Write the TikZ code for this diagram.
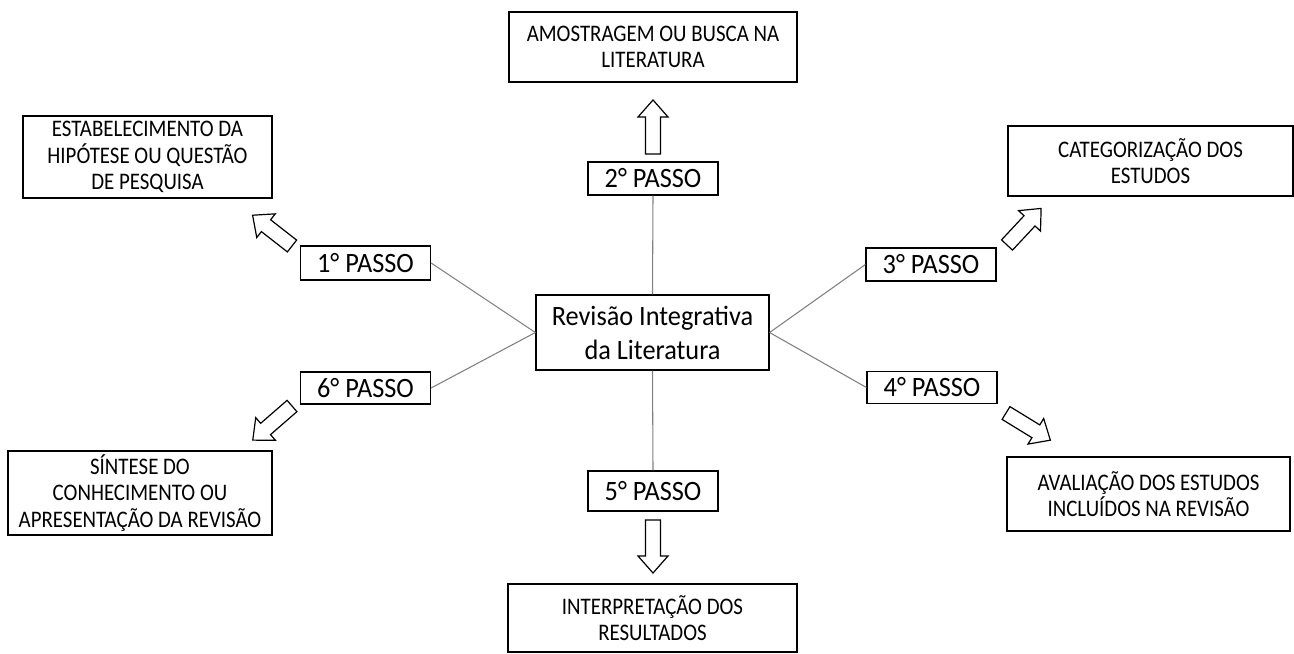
\documentclass[tikz,border=0pt]{standalone}
\usepackage{fontspec}
\setmainfont{Carlito}
\newfontfamily\boxfont[FakeStretch=0.88]{Carlito}
\newfontfamily\passofont[FakeStretch=0.94]{Carlito}
\tikzset{
  box/.style={draw=black, line width=0.9pt, inner sep=0pt, align=center, fill=white,
    font=\boxfont\fontsize{17.8}{20}\selectfont},
  passo/.style={draw=black, line width=0.9pt, inner sep=0pt, align=center, fill=white,
    minimum width=130*0.75pt, font=\passofont\fontsize{21}{24}\selectfont},
  central/.style={draw=black, line width=0.9pt, inner sep=0pt, align=center, fill=white,
    minimum width=233*0.75pt, minimum height=75*0.75pt, font=\passofont\fontsize{21}{25.5}\selectfont},
  link/.style={draw=black!50, line width=0.8pt},
  blockarr/.style={draw=black, line width=0.9pt, fill=white, line join=miter}
}
\newcommand{\blockarrow}[3]{%
  \begin{scope}[shift={(#1)}, rotate=#2]
    \draw[blockarr] (0,-7.5) -- (#3-17,-7.5) -- (#3-17,-15) -- (#3,0) -- (#3-17,15) -- (#3-17,7.5) -- (0,7.5) -- cycle;
  \end{scope}}
\begin{document}
\begin{tikzpicture}[x=0.75pt, y=-0.75pt]
\useasboundingbox (0,0) rectangle (1294,653);
% central node
\node[central] (c) at (652.5,332.5) {Revisão Integrativa\\da Literatura};
% step labels
\node[passo, minimum height=34*0.75pt] (p1) at (365.5,263) {1° PASSO};
\node[passo, minimum height=33*0.75pt] (p2) at (653,178.5) {2° PASSO};
\node[passo, minimum height=33*0.75pt] (p3) at (931,264.5) {3° PASSO};
\node[passo, minimum height=32*0.75pt] (p4) at (932,387.5) {4° PASSO};
\node[passo, minimum height=40*0.75pt] (p5) at (653,491) {5° PASSO};
\node[passo, minimum height=32*0.75pt] (p6) at (365.5,388) {6° PASSO};
% result boxes
\node[box, minimum width=249*0.75pt, minimum height=82*0.75pt] (b1) at (147.5,157) {ESTABELECIMENTO DA\\HIPÓTESE OU QUESTÃO\\DE PESQUISA};
\node[box, minimum width=288*0.75pt, minimum height=70*0.75pt] (b2) at (653,47) {AMOSTRAGEM OU BUSCA NA\\LITERATURA};
\node[box, minimum width=285*0.75pt, minimum height=70*0.75pt] (b3) at (1150.5,161) {CATEGORIZAÇÃO DOS\\ESTUDOS};
\node[box, minimum width=283*0.75pt, minimum height=74*0.75pt] (b4) at (1148.5,494) {AVALIAÇÃO DOS ESTUDOS\\INCLUÍDOS NA REVISÃO};
\node[box, minimum width=289*0.75pt, minimum height=68*0.75pt] (b5) at (652.5,618) {INTERPRETAÇÃO DOS\\RESULTADOS};
\node[box, minimum width=264*0.75pt, minimum height=84*0.75pt] (b6) at (140,493) {SÍNTESE DO\\CONHECIMENTO OU\\APRESENTAÇÃO DA REVISÃO};
% connectors
\draw[link] (p1.east) -- (c.west);
\draw[link] (p6.east) -- (c.west);
\draw[link] (p3.west) -- (c.east);
\draw[link] (p4.west) -- (c.east);
\draw[link] (p2.south) -- (c.north);
\draw[link] (c.south) -- (p5.north);
% block arrows
\coordinate (a1) at (292,246);
\coordinate (a2) at (653,154);
\coordinate (a3) at (1007,245);
\coordinate (a4) at (1006,413);
\coordinate (a5) at (653,520);
\coordinate (a6) at (292,406);
\blockarrow{a1}{142}{50}
\blockarrow{a2}{90}{54}
\blockarrow{a3}{47}{50}
\blockarrow{a4}{-31.5}{52}
\blockarrow{a5}{-90}{53}
\blockarrow{a6}{221}{52}
\end{tikzpicture}
\end{document}
